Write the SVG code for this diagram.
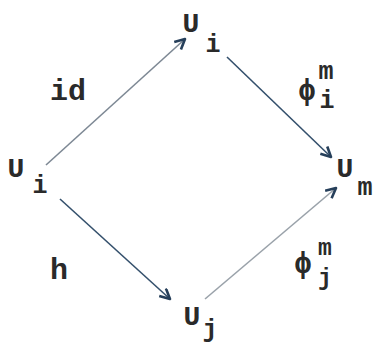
<svg xmlns="http://www.w3.org/2000/svg" width="376" height="344" viewBox="0 0 376 344">
<style>
text{font-family:"Liberation Mono","DejaVu Sans Mono",monospace;font-weight:bold;fill:#2a2a2a;text-anchor:middle}
.b{font-size:28px}
.s{font-size:25px}
.t{font-size:23px}
.l{font-size:30px}
.p{font-size:30px}
.e{stroke-width:1.6;fill:none}
</style>
<defs>
<marker id="ah" markerWidth="14" markerHeight="14" refX="11" refY="6" orient="auto" markerUnits="userSpaceOnUse">
<path d="M1,1 L11,6 L1,11" fill="none" stroke="#263f5a" stroke-width="2.6" stroke-linejoin="round"/>
</marker>
</defs>
<rect width="376" height="344" fill="#ffffff"/>
<g id="connectors">
<line class="e" x1="46" y1="165" x2="185" y2="39" stroke="#7d8894" marker-end="url(#ah)"/>
<line class="e" x1="227" y1="57" x2="331" y2="157" stroke="#34506c" stroke-width="2" marker-end="url(#ah)"/>
<line class="e" x1="60" y1="199" x2="170" y2="299" stroke="#34506c" stroke-width="2" marker-end="url(#ah)"/>
<line class="e" x1="205" y1="299" x2="336" y2="188" stroke="#9aa2aa" marker-end="url(#ah)"/>
</g>
<g id="node-left-Ui"><text class="b" x="16" y="177">U</text><text class="s" x="40" y="193">i</text></g>
<g id="node-top-Ui"><text class="b" x="191" y="32">U</text><text class="s" x="213" y="52">i</text></g>
<g id="node-right-Um"><text class="b" x="345" y="177">U</text><text class="s" x="365" y="195">m</text></g>
<g id="node-bottom-Uj"><text class="b" x="192" y="325">U</text><text class="s" x="210" y="337">j</text></g>
<g id="label-id"><text class="l" x="68" y="100">id</text></g>
<g id="label-h"><text class="l" x="59" y="279">h</text></g>
<g id="label-phi-i"><text class="p" x="307" y="100">ϕ</text><text class="s" x="326" y="79">m</text><text class="s" x="327" y="108">i</text></g>
<g id="label-phi-j"><text class="p" x="303" y="273">ϕ</text><text class="t" x="325" y="255">m</text><text class="t" x="325" y="285">j</text></g>
</svg>
